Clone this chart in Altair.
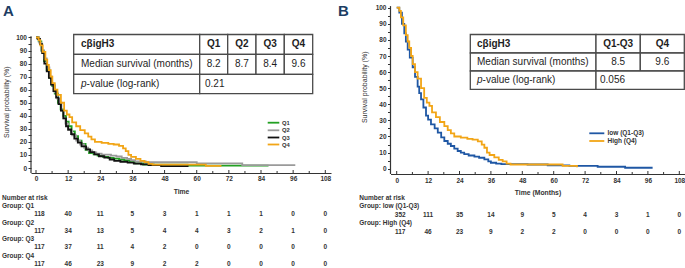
import altair as alt
import pandas as pd

FONT = "Liberation Sans"
AXC = "#333333"
TXT = "#1e1e1e"
NAVY = "#1c3d63"

# ---------------- data ----------------
months_risk = [0, 12, 24, 36, 48, 60, 72, 84, 96, 108]
risk_q1 = [118, 40, 11, 5, 3, 1, 1, 1, 0, 0]
risk_q2 = [117, 34, 13, 5, 4, 4, 3, 2, 1, 0]
risk_q3 = [117, 37, 11, 4, 2, 0, 0, 0, 0, 0]
risk_q4 = [117, 46, 23, 9, 2, 2, 0, 0, 0, 0]
risk_low = [352, 111, 35, 14, 9, 5, 4, 3, 1, 0]
risk_high = [117, 46, 23, 9, 2, 2, 0, 0, 0, 0]

groups_a = ["Q1", "Q2", "Q3", "Q4"]
colors_a = ["#22a022", "#9a9a9a", "#111111", "#f2a516"]
groups_b = ["low (Q1-Q3)", "High (Q4)"]
colors_b = ["#1f57a4", "#f2a516"]

q1_t = [0, 1.0, 2.0, 3.0, 4.0, 5.0, 6.0, 7.0, 8.2, 9.2, 10.2, 11.2, 12.2, 13.3, 14.5, 15.7, 17.0,
        18.5, 19.8, 21.5, 23.0, 25.0, 27.0, 29.0, 31.0, 33.0, 35.0, 37.0, 40.0, 44.0, 56.6, 86.8]
q1_s = [100, 97, 90, 82, 75, 69, 63, 57, 50, 45, 40, 35.5, 32, 28, 24.5, 21, 18.4,
        14, 11.5, 10.5, 9.5, 8.5, 7.8, 7.2, 6.5, 5.8, 4.5, 3.5, 2.7, 2.5, 1.8, 1.8]

q2_t = [0, 1.2, 2.0, 3.0, 4.0, 5.0, 6.0, 7.0, 8.0, 8.7, 9.5, 10.3, 11.0, 12.0, 13.5, 15.0, 16.5,
        18.0, 19.5, 21.0, 22.5, 24.5, 28.0, 30.0, 32.0, 34.0, 35.5, 37.0, 41.0, 60.0, 77.0, 96.8]
q2_s = [100, 96, 90, 84, 77, 70, 64, 58, 53, 50, 44, 38, 34, 29, 25, 21, 18,
        15.5, 13.5, 12, 11, 10.2, 9.5, 8.8, 7.8, 7.0, 6.0, 5.0, 4.4, 3.6, 2.2, 2.2]

q3_t = [0, 0.6, 1.5, 2.3, 3.1, 4.0, 4.8, 5.6, 6.5, 7.5, 8.4, 9.3, 10.2, 11.2, 12.0, 13.1, 14.3,
        15.6, 17.0, 18.7, 20.2, 21.8, 23.5, 25.5, 27.5, 29.2, 31.5, 34.2, 36.5, 39.2, 42.0, 46.7, 56.6]
q3_s = [100, 99, 95, 88, 80, 74, 69, 64, 59, 54, 49, 44, 38, 32, 29.5, 26, 22.5,
        19.4, 16.5, 14.3, 12.2, 10.5, 9, 7.9, 6.5, 5.4, 4.8, 4.1, 3.4, 2.8, 2.2, 1.5, 0.8]

q4_t = [0, 1.0, 1.6, 2.5, 3.5, 4.2, 4.8, 5.5, 6.1, 7.0, 8.0, 9.3, 10.5, 11.5, 12.5, 13.5, 15.0,
        16.5, 18.2, 19.5, 20.7, 22.0, 24.5, 27.0, 29.0, 31.0, 32.5, 33.5, 34.5, 35.5, 37.3, 39.0,
        40.5, 42.0, 43.5, 63.4, 68.9]
q4_s = [100, 98, 94, 89, 83, 79, 75, 70, 65, 60, 56, 50, 44, 41, 39, 35, 32,
        29, 26.5, 24, 22, 20, 19.3, 18.5, 18, 17, 15, 13, 10, 8.5, 7, 5.5,
        4.5, 3.2, 2.6, 1.7, 0.9]

low_t = [0, 1.0, 2.0, 2.9, 3.5, 4.2, 5.0, 6.1, 7.0, 8.0, 8.6, 9.3, 10.2, 11.2, 12.0, 13.1, 14.5,
         15.7, 17.0, 18.2, 19.5, 20.7, 22.0, 23.3, 24.5, 25.8, 27.5, 29.7, 31.5, 33.5, 35.0, 36.0,
         38.0, 40.0, 50.0, 57.7, 66.0, 76.8, 87.3, 97.8]
low_s = [100, 97, 90, 84, 79, 74, 69, 63, 57, 51, 47, 43, 38, 33, 30.5, 27.5, 25,
         22.4, 19.5, 17.2, 15.5, 14.1, 12.5, 11, 10, 9, 8.2, 7.5, 6.8, 5.8, 4.5, 3.7,
         3.1, 2.8, 2.6, 2.1, 1.7, 1.2, 0.6, 0.6]

table_a_header = ["cβigH3", "Q1", "Q2", "Q3", "Q4"]
table_a_median = ["8.2", "8.7", "8.4", "9.6"]
table_a_p = "0.21"
table_b_header = ["cβigH3", "Q1-Q3", "Q4"]
table_b_median = ["8.5", "9.6"]
table_b_p = "0.056"
row_median = "Median survival (months)"
row_p_italic = "p"
row_p_rest = "-value (log-rank)"


# ---------------- helpers ----------------
def x_axis(title, label_pad):
    return alt.Axis(values=months_risk, ticks=False, grid=False, domainColor=AXC, domainWidth=1.2,
                    labelFont=FONT, labelFontSize=6.5, labelFontWeight="bold", labelColor=AXC,
                    labelPadding=label_pad, labelFlush=False, title=title, titleFont=FONT,
                    titleFontSize=6.8, titleFontWeight="bold", titleColor=AXC, titleY=18.7,
                    titleBaseline="middle")


def y_axis(title_x, title_y):
    return alt.Axis(values=list(range(0, 101, 5)),
                    labelExpr="datum.value % 10 === 0 ? datum.label : ''",
                    domain=False, grid=False, tickSize=3, tickColor=AXC, tickWidth=1,
                    labelFont=FONT, labelFontSize=6.5, labelFontWeight="bold", labelColor=AXC,
                    labelPadding=1.5, labelFlush=False, labelOverlap=False,
                    title="Survival probability (%)", titleFont=FONT, titleFontSize=7,
                    titleFontWeight="normal", titleColor=AXC, titleX=title_x, titleY=title_y,
                    titleBaseline="middle")


class Panel:
    def __init__(self, left, top, width, height, x0, x108, y0, y100, xaxis, yaxis):
        self.left, self.top, self.width, self.height = left, top, width, height
        self.sx = (x108 - x0) / 108.0
        self.x0 = x0
        self.sy = (y0 - y100) / 100.0
        self.y0 = y0
        self.xdom = [self.mx(left), self.mx(left + width)]
        self.ydom = [self.my(top + height), self.my(top)]
        self.xaxis = xaxis
        self.yaxis = yaxis

    def mx(self, px):
        return (px - self.x0) / self.sx

    def my(self, py):
        return (self.y0 - py) / self.sy

    def X(self, field):
        return alt.X(field, type="quantitative",
                     scale=alt.Scale(domain=self.xdom, nice=False, zero=False), axis=self.xaxis)

    def Y(self, field):
        return alt.Y(field, type="quantitative",
                     scale=alt.Scale(domain=self.ydom, nice=False, zero=False), axis=self.yaxis)


def curve(P, t, s, color):
    df = pd.DataFrame({"t": t, "s": s})
    return alt.Chart(df).mark_line(interpolate="step-after", color=color, strokeWidth=1.8).encode(
        x=P.X("t"), y=P.Y("s"))


def texts(P, rows, size, weight="normal", align="left", style="normal", color=TXT, dx=0):
    # rows: (canvas_x or None, data_x, canvas_y, text)
    df = pd.DataFrame({
        "x": [P.mx(r[0]) if r[0] is not None else r[1] for r in rows],
        "y": [P.my(r[2]) for r in rows],
        "label": [r[3] for r in rows],
    })
    return alt.Chart(df).mark_text(font=FONT, fontSize=size, fontWeight=weight, align=align,
                                   baseline="middle", fontStyle=style, fill=color, dx=dx).encode(
        x=P.X("x"), y=P.Y("y"), text=alt.Text("label:N"))


def axis_lines(P):
    ydf = pd.DataFrame({"x": [P.xdom[0]], "y": [P.ydom[0]], "y2": [101.0]})
    yline = alt.Chart(ydf).mark_rule(color=AXC, strokeWidth=1.2).encode(
        x=P.X("x"), y=P.Y("y"), y2="y2")
    tick_m = list(range(0, 109, 6))
    tdf = pd.DataFrame({
        "x": tick_m,
        "y": [P.ydom[0]] * len(tick_m),
        "y2": [P.ydom[0] + (3.0 if m % 12 == 0 else 2.0) / P.sy for m in tick_m],
    })
    ticks = alt.Chart(tdf).mark_rule(color=AXC, strokeWidth=1).encode(
        x=P.X("x"), y=P.Y("y"), y2="y2")
    return [yline, ticks]


def table(P, cols, rows_y, header, medians, pval, name_dx, pval_dx):
    cells = []
    for r in range(2):
        for c in range(len(cols) - 1):
            cells.append((cols[c], cols[c + 1], rows_y[r], rows_y[r + 1]))
    cells.append((cols[0], cols[1], rows_y[2], rows_y[3]))
    cells.append((cols[1], cols[-1], rows_y[2], rows_y[3]))
    cdf = pd.DataFrame({
        "x": [P.mx(c[0]) for c in cells], "x2": [P.mx(c[1]) for c in cells],
        "y": [P.my(c[2]) for c in cells], "y2": [P.my(c[3]) for c in cells],
    })
    rects = alt.Chart(cdf).mark_rect(fill="white", stroke="#4a4a4a", strokeWidth=1.3).encode(
        x=P.X("x"), x2="x2", y=P.Y("y"), y2="y2")
    cy = [(rows_y[i] + rows_y[i + 1]) / 2 for i in range(3)]
    centers = [(cols[i] + cols[i + 1]) / 2 for i in range(1, len(cols) - 1)]
    lx = cols[0] + name_dx
    head_cells = [(centers[i], None, cy[0], header[i + 1]) for i in range(len(centers))]
    med_cells = [(centers[i], None, cy[1], medians[i]) for i in range(len(centers))]
    return [
        rects,
        texts(P, [(lx, None, cy[0], header[0])], 10, weight="bold"),
        texts(P, head_cells, 10, weight="bold", align="center"),
        texts(P, [(lx, None, cy[1], row_median)], 10),
        texts(P, med_cells, 10, align="center"),
        texts(P, [(lx, None, cy[2], row_p_italic)], 10, style="italic"),
        texts(P, [(lx + 5.6, None, cy[2], row_p_rest)], 10),
        texts(P, [(cols[1] + pval_dx, None, cy[2], pval)], 10),
    ]


def legend(P, x1, x2, tx, ys, names, colors, size):
    layers = []
    for name, col, yy in zip(names, colors, ys):
        ldf = pd.DataFrame({"x": [P.mx(x1)], "x2": [P.mx(x2)], "y": [P.my(yy)]})
        layers.append(alt.Chart(ldf).mark_rule(color=col, strokeWidth=1.8).encode(
            x=P.X("x"), x2="x2", y=P.Y("y")))
    layers.append(texts(P, [(tx, None, yy, n) for n, yy in zip(names, ys)], size,
                        weight="bold", color=AXC))
    return layers


def risk_rows(P, label_x, head_y, groups, risks, group_ys, value_ys):
    layers = [texts(P, [(label_x, None, head_y, "Number at risk")], 6.5, weight="bold", color=AXC)]
    layers.append(texts(P, [(label_x, None, gy, "Group: " + g) for g, gy in zip(groups, group_ys)],
                        6.5, weight="bold", color=AXC))
    first, rest = [], []
    for risk, vy in zip(risks, value_ys):
        for m, v in zip(months_risk, risk):
            (first if m == 0 else rest).append((None, m, vy, str(v)))
    layers.append(texts(P, first, 6.5, weight="bold", align="center", color=AXC, dx=3.5))
    layers.append(texts(P, rest, 6.5, weight="bold", align="center", color=AXC))
    return layers


# ---------------- panel A ----------------
PA = Panel(left=30, top=5, width=300, height=167, x0=35, x108=324.3, y0=167, y100=36.5,
           xaxis=x_axis("Time", 2), yaxis=y_axis(-24.2, 95.7))
layers_a = []
layers_a.append(curve(PA, q1_t, q1_s, colors_a[0]))
layers_a.append(curve(PA, q2_t, q2_s, colors_a[1]))
layers_a.append(curve(PA, q3_t, q3_s, colors_a[2]))
layers_a.append(curve(PA, q4_t, q4_s, colors_a[3]))
layers_a += axis_lines(PA)
layers_a += table(PA, [72.7, 198.7, 226.7, 255.0, 283.3, 311.7], [33.5, 53.3, 73.3, 92.7],
                  table_a_header, table_a_median, table_a_p, 7.3, 5.3)
layers_a += legend(PA, 266.7, 278.3, 281.0, [121.7, 129.3, 136.5, 143.5], groups_a, colors_a, 5.8)
layers_a += risk_rows(PA, 1, 196.7, groups_a, [risk_q1, risk_q2, risk_q3, risk_q4],
                      [205.3, 221.8, 238.3, 254.8], [213.0, 229.5, 246.0, 262.5])
layers_a.append(texts(PA, [(2, None, 10, "A")], 15, weight="bold", color=NAVY))
anchor_df = pd.DataFrame({"x": [PA.mx(0)], "x2": [PA.mx(0.2)], "y": [PA.my(0.1)]})
layers_a.append(alt.Chart(anchor_df).mark_rule(color="white", strokeWidth=0.2).encode(
    x=PA.X("x"), x2="x2", y=PA.Y("y")))
chart_a = alt.layer(*layers_a).properties(width=PA.width, height=PA.height)

# ---------------- panel B ----------------
PB = Panel(left=389.5, top=5, width=294, height=168, x0=395.7, x108=678.3, y0=167.7, y100=6.7,
           xaxis=x_axis("Time (Months)", 3.5), yaxis=y_axis(-26.5, 80.8))
layers_b = []
layers_b.append(curve(PB, low_t, low_s, colors_b[0]))
layers_b.append(curve(PB, q4_t, q4_s, colors_b[1]))
layers_b += axis_lines(PB)
layers_b += table(PB, [469.3, 595.0, 639.3, 683.3], [33.5, 52.0, 70.0, 88.3],
                  table_b_header, table_b_median, table_b_p, 6.7, 4.0)
layers_b += legend(PB, 588.3, 603.3, 606.5, [132.3, 140.0], groups_b, colors_b, 6.5)
layers_b += risk_rows(PB, 358.3, 196.7, groups_b, [risk_low, risk_high],
                      [205.0, 222.0], [213.5, 230.5])
layers_b.append(texts(PB, [(337, None, 10, "B")], 15, weight="bold", color=NAVY))
chart_b = alt.layer(*layers_b).properties(width=PB.width, height=PB.height)

chart = alt.hconcat(chart_a, chart_b, spacing=59.5, bounds="flush").properties(
    padding=0).configure_view(stroke=None)

chart.save("out.html", embed_options={"renderer": "svg", "actions": False})
